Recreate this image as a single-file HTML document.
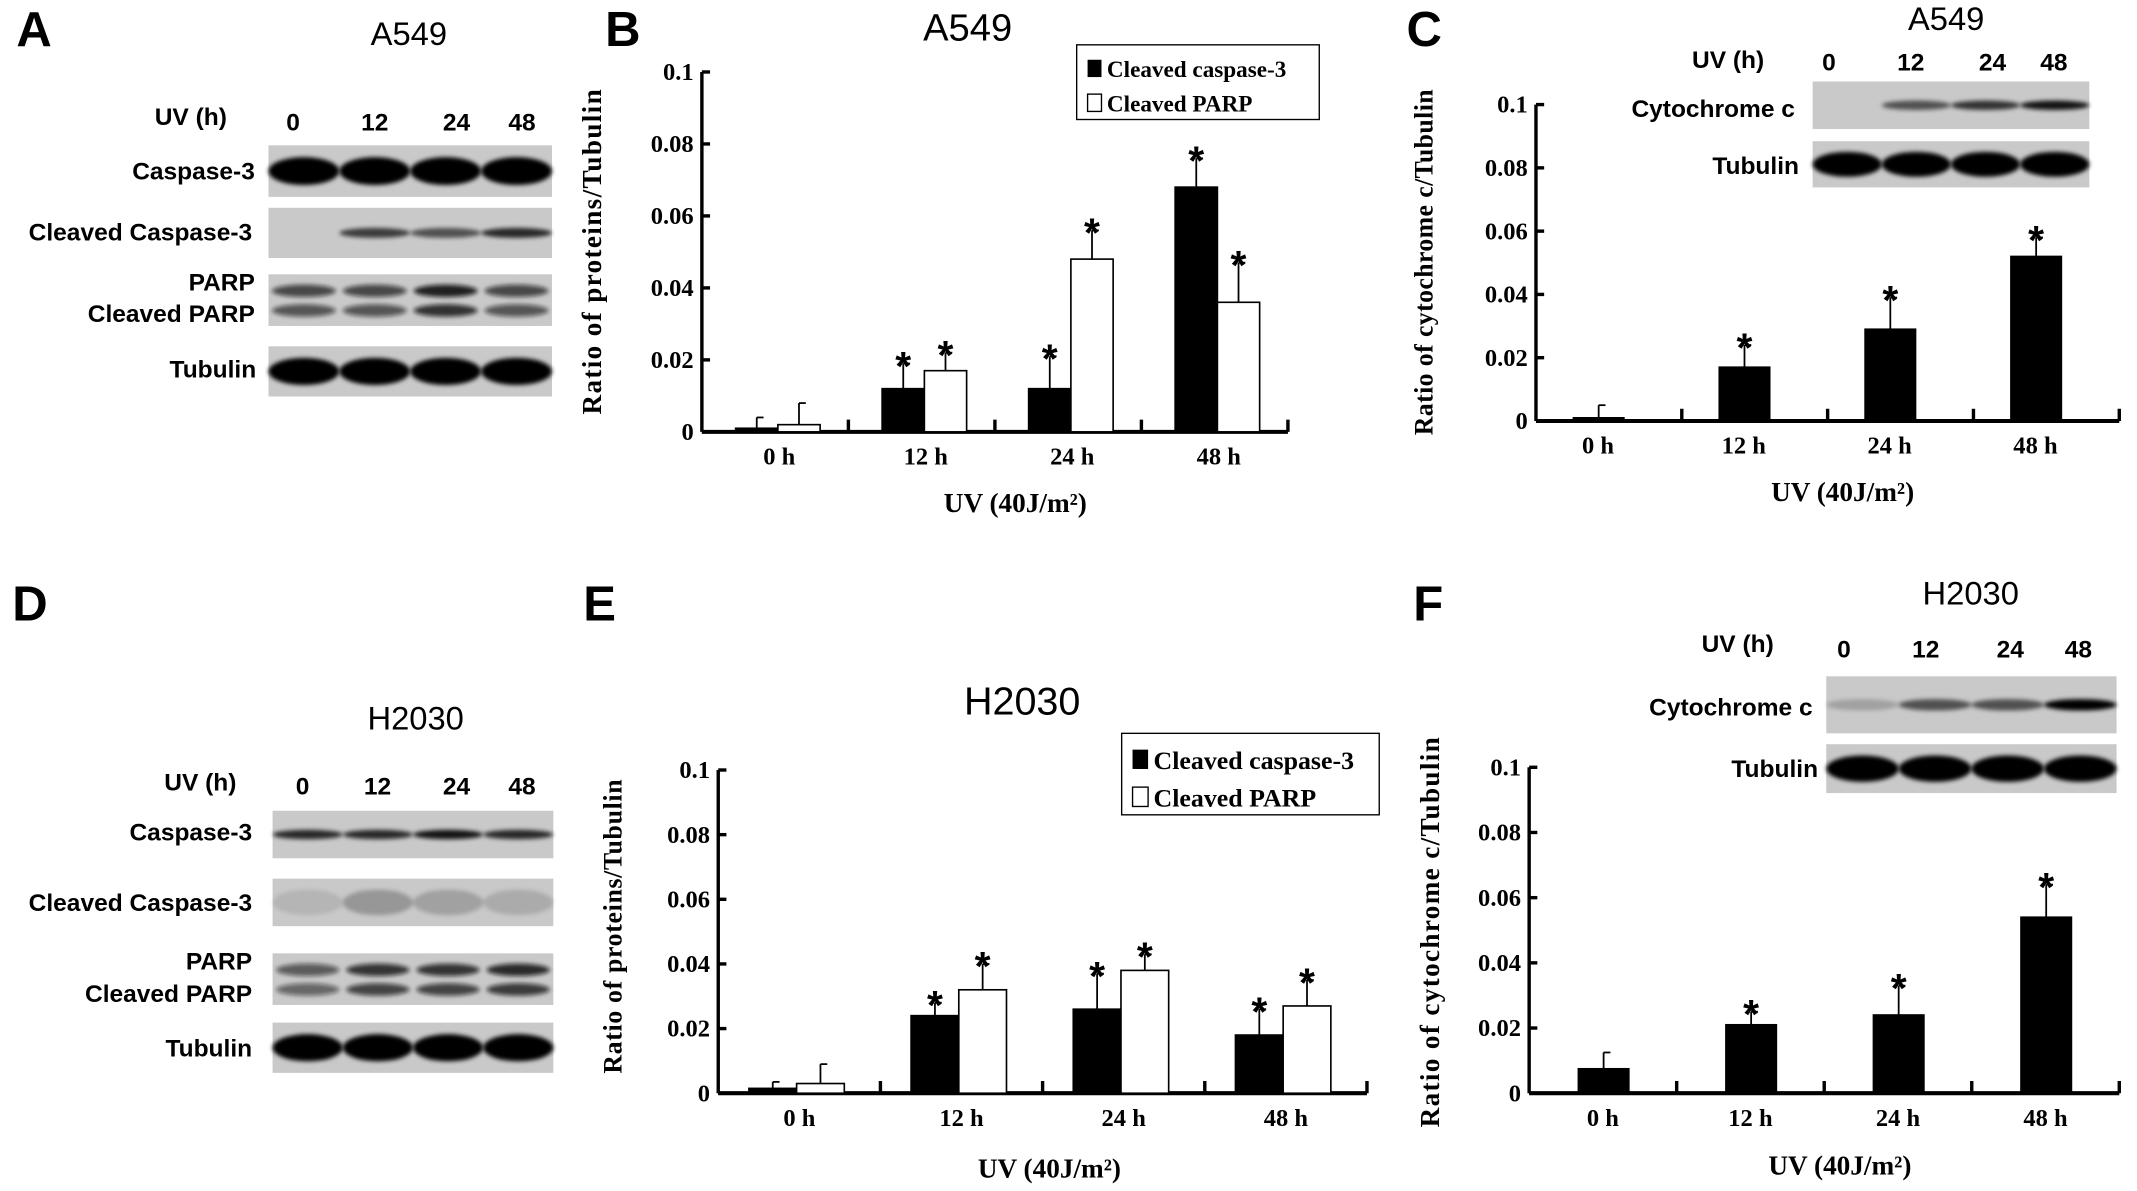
<!DOCTYPE html>
<html><head><meta charset="utf-8"><style>
html,body{margin:0;padding:0;background:#fff;width:2137px;height:1191px;overflow:hidden}
svg{display:block}
.s{font-family:"Liberation Sans",Arial,sans-serif;fill:#000}
.r{font-family:"Liberation Serif",serif;font-weight:bold;fill:#000}
</style></head><body>
<svg id="fig" width="2137" height="1191" viewBox="0 0 1568 877" preserveAspectRatio="none" xmlns="http://www.w3.org/2000/svg">
<defs><filter id="bl" x="-10%" y="-50%" width="120%" height="200%"><feGaussianBlur stdDeviation="1.6"/></filter></defs>
<g id="root"></g>
</svg>
<script>
// Panel B (A549) data
const catsB = ["0 h","12 h","24 h","48 h"];
const casp3B = [0.001,0.012,0.012,0.068];
const casp3ErrB = [0.003,0.007,0.009,0.008];
const parpB = [0.002,0.017,0.048,0.036];
const parpErrB = [0.006,0.005,0.008,0.011];
// Panel C (A549 cytochrome c)
const catsC = ["0 h","12 h","24 h","48 h"];
const cytoC = [0.001,0.017,0.029,0.052];
const cytoErrC = [0.004,0.007,0.010,0.006];
// Panel E (H2030)
const catsE = ["0 h","12 h","24 h","48 h"];
const casp3E = [0.0015,0.024,0.026,0.018];
const casp3ErrE = [0.002,0.004,0.011,0.008];
const parpE = [0.003,0.032,0.038,0.027];
const parpErrE = [0.006,0.008,0.005,0.008];
// Panel F (H2030 cytochrome c)
const catsF = ["0 h","12 h","24 h","48 h"];
const cytoF = [0.0075,0.021,0.024,0.054];
const cytoErrF = [0.005,0.004,0.009,0.010];
const yTicks = ["0","0.02","0.04","0.06","0.08","0.1"];
const yTickVals = [0,0.02,0.04,0.06,0.08,0.1];

const NS="http://www.w3.org/2000/svg";
const root=document.getElementById('root');
function el(tag,attrs,parent,txt){const e=document.createElementNS(NS,tag);for(const k in attrs)e.setAttribute(k,attrs[k]);if(txt!==undefined)e.textContent=txt;(parent||root).appendChild(e);return e;}
function txt(x,y,s,cls,size,anchor,name,extra){const t=el('text',Object.assign({x:x,y:y,class:cls,'font-size':size,'text-anchor':anchor||'middle','font-weight':'bold'},extra||{}),null,s);

return t;}

function chart(o){
  const g=el('g',{});
  
  
  const y=v=>o.y0-(v/0.1)*(o.y0-o.y1);
  const n=o.cats.length, gw=(o.x1-o.x0)/n;
  const cx=i=>o.x0+gw*(i+0.5)+o.coff;
  const ya=el('line',{x1:o.x0,y1:o.y0,x2:o.x0,y2:o.y1,stroke:'#000','stroke-width':2.5},g);
  
  
  const xa=el('line',{x1:o.x0,y1:o.y0,x2:o.x1,y2:o.y0,stroke:'#000','stroke-width':3},g);
  
  
  yTickVals.forEach((v,i)=>{
    el('line',{x1:o.x0,y1:y(v),x2:o.x0+6,y2:y(v),stroke:'#000','stroke-width':2.5},g);
    const t=el('text',{x:o.x0-6,y:y(v)+6,class:'r','font-size':18,'text-anchor':'end'},g,yTicks[i]);
    
    
  });
  for(let i=1;i<=n;i++){el('line',{x1:o.x0+gw*i,y1:o.y0,x2:o.x0+gw*i,y2:o.y0-9,stroke:'#000','stroke-width':2.5},g);}
  o.cats.forEach((c,i)=>{const t=el('text',{x:o.x0+gw*(i+0.5)+o.coff,y:o.y0+24,class:'r','font-size':18,'text-anchor':'middle'},g,c);
    
    });
  o.series.forEach((s,si)=>{
    s.vals.forEach((v,i)=>{
      const bx=cx(i)+s.off, top=y(v), et=y(v+s.err[i]);
      const ex=bx+o.bw/2;
      el('line',{x1:ex,y1:top,x2:ex,y2:et,stroke:'#000','stroke-width':1.3},g);
      el('line',{x1:ex,y1:et,x2:ex+5,y2:et,stroke:'#000','stroke-width':1.3},g);
      const r=el('rect',{x:bx,y:top,width:o.bw,height:o.y0-top,fill:s.fill,stroke:'#000','stroke-width':1.2},g);
      
      
      if(i>0){const st=el('text',{x:ex,y:et+12,class:'s','font-size':30,'font-weight':'bold','text-anchor':'middle'},g,'*');
        
        }
    });
  });
}
chart({name:'chart-b',x0:515,x1:945,y0:318,y1:53,coff:3,bw:31,cats:catsB,
 series:[{key:'caspase3',vals:casp3B,err:casp3ErrB,fill:'#000',off:-32},{key:'parp',vals:parpB,err:parpErrB,fill:'#fff',off:-1}]});
chart({name:'chart-c',x0:1127,x1:1555,y0:310,y1:77,coff:-8,bw:37,cats:catsC,
 series:[{key:'cytochrome',vals:cytoC,err:cytoErrC,fill:'#000',off:-18}]});
chart({name:'chart-e',x0:527,x1:1003,y0:805,y1:567,coff:0,bw:35,cats:catsE,
 series:[{key:'caspase3',vals:casp3E,err:casp3ErrE,fill:'#000',off:-37},{key:'parp',vals:parpE,err:parpErrE,fill:'#fff',off:-2}]});
chart({name:'chart-f',x0:1122,x1:1555,y0:805,y1:565,coff:0,bw:37,cats:catsF,
 series:[{key:'cytochrome',vals:cytoF,err:cytoErrF,fill:'#000',off:-18}]});

const N={'font-weight':'normal'};
txt(25,34,'A','s',36,'middle','panel-label-a');
txt(457,34,'B','s',36,'middle','panel-label-b');
txt(1045,34,'C','s',36,'middle','panel-label-c');
txt(22,457,'D','s',36,'middle','panel-label-d');
txt(440,457,'E','s',36,'middle','panel-label-e');
txt(1048,457,'F','s',36,'middle','panel-label-f');
txt(710,30,'A549','s',28,'middle','chart-b-title',N);
txt(1428,22,'A549','s',24,'middle','chart-c-title',N);
txt(300,33,'A549','s',24,'middle','blot-a-title',N);
txt(305,537,'H2030','s',24,'middle','blot-d-title',N);
txt(750,526,'H2030','s',29,'middle','chart-e-title',N);
txt(1446,445,'H2030','s',24,'middle','chart-f-title',N);
txt(745,377,'UV (40J/m²)','r',20,'middle','chart-b-x-title');
txt(1352,369,'UV (40J/m²)','r',20,'middle','chart-c-x-title');
txt(770,867,'UV (40J/m²)','r',20,'middle','chart-e-x-title');
txt(1350,865,'UV (40J/m²)','r',20,'middle','chart-f-x-title');
txt(0,0,'Ratio of proteins/Tubulin','r',20,'middle','chart-b-y-title',{transform:'translate(441,185) rotate(-90)','letter-spacing':'1'});
txt(0,0,'Ratio of cytochrome c/Tubulin','r',19,'middle','chart-c-y-title',{transform:'translate(1051,193) rotate(-90)','letter-spacing':'0.3'});
txt(0,0,'Ratio of proteins/Tubulin','r',19,'middle','chart-e-y-title',{transform:'translate(456,682) rotate(-90)','letter-spacing':'0.5'});
txt(0,0,'Ratio of cytochrome c/Tubulin','r',20,'middle','chart-f-y-title',{transform:'translate(1056,686) rotate(-90)','letter-spacing':'1'});

function legend(x,y,w,h,fs,name){
  const r=el('rect',{x:x,y:y,width:w,height:h,fill:'#fff',stroke:'#000','stroke-width':1});
  
  
  el('rect',{x:x+8,y:y+h*0.2,width:fs*0.6,height:fs*0.75,fill:'#000'});
  el('rect',{x:x+8,y:y+h*0.66,width:fs*0.6,height:fs*0.75,fill:'#fff',stroke:'#000','stroke-width':1});
  txt(x+12+fs*0.6,y+h*0.2+fs*0.75,'Cleaved caspase-3','r',fs,'start','legend-entry-caspase3');
  txt(x+12+fs*0.6,y+h*0.66+fs*0.75,'Cleaved PARP','r',fs,'start','legend-entry-parp');
}
legend(790,33,178,55,17,'legend-b');
legend(823,540,189,60,19,'legend-e');

function blot(x,y,w,h,lanes,style,name){
  const g=el('g',{});
  
  
  el('rect',{x:x,y:y,width:w,height:h,fill:'#c9c9c9'},g);
  const lw=w/lanes.length;
  lanes.forEach((a,i)=>{
    if(a<=0)return;
    const cx=x+lw*(i+0.5);
    if(style==='double'){
      el('ellipse',{cx:cx,cy:y+h*0.32,rx:lw*0.45,ry:h*0.12,fill:'#111','fill-opacity':a,filter:'url(#bl)'},g);
      el('ellipse',{cx:cx,cy:y+h*0.7,rx:lw*0.45,ry:h*0.12,fill:'#111','fill-opacity':a*0.9,filter:'url(#bl)'},g);
    } else {
      el('ellipse',{cx:cx,cy:y+h*0.5,rx:lw*0.5,ry:h*(style==='thick'?0.27:0.1),fill:'#000','fill-opacity':a,filter:'url(#bl)'},g);
    }
  });
}
const B={'font-weight':'bold'};
txt(140,92,'UV (h)','s',18,'middle','uv-label-a');
[['0',215],['12',275],['24',335],['48',383]].forEach(l=>txt(l[1],96,l[0],'s',18,'middle','lane-label'));
blot(197,107,208,38,[1,1,1,1],'thick','blot-caspase3-a');
blot(197,153,208,37,[0,0.7,0.6,0.8],'thin','blot-cleaved-caspase3-a');
blot(197,202,208,38,[0.7,0.7,0.9,0.7],'double','blot-parp-a');
blot(197,255,208,37,[1,1,1,1],'thick','blot-tubulin-a');
txt(187,132,'Caspase-3','s',18,'end','row-label');
txt(185,177,'Cleaved Caspase-3','s',18,'end','row-label');
txt(187,214,'PARP','s',18,'end','row-label');
txt(187,237,'Cleaved PARP','s',18,'end','row-label');
txt(188,278,'Tubulin','s',18,'end','row-label');
txt(147,582,'UV (h)','s',18,'middle','uv-label-d');
[['0',222],['12',277],['24',335],['48',383]].forEach(l=>txt(l[1],585,l[0],'s',18,'middle','lane-label'));
blot(200,597,206,35,[0.8,0.8,0.9,0.8],'thin','blot-caspase3-d');
blot(200,647,206,35,[0.1,0.25,0.2,0.15],'thick','blot-cleaved-caspase3-d');
blot(200,702,206,38,[0.6,0.8,0.8,0.85],'double','blot-parp-d');
blot(200,753,206,37,[1,1,1,1],'thick','blot-tubulin-d');
txt(185,619,'Caspase-3','s',18,'end','row-label');
txt(185,671,'Cleaved Caspase-3','s',18,'end','row-label');
txt(185,714,'PARP','s',18,'end','row-label');
txt(185,738,'Cleaved PARP','s',18,'end','row-label');
txt(185,778,'Tubulin','s',18,'end','row-label');
txt(1268,50,'UV (h)','s',18,'middle','uv-label-c');
[['0',1342],['12',1402],['24',1462],['48',1507]].forEach(l=>txt(l[1],52,l[0],'s',18,'middle','lane-label'));
blot(1330,60,203,35,[0,0.6,0.75,0.9],'thin','blot-cytochrome-c');
blot(1330,104,203,34,[1,1,1,1],'thick','blot-tubulin-c');
txt(1317,86,'Cytochrome c','s',18,'end','row-label');
txt(1320,128,'Tubulin','s',18,'end','row-label');
txt(1275,480,'UV (h)','s',18,'middle','uv-label-f');
[['0',1353],['12',1413],['24',1475],['48',1525]].forEach(l=>txt(l[1],484,l[0],'s',18,'middle','lane-label'));
blot(1340,498,213,42,[0.2,0.6,0.6,1],'thin','blot-cytochrome-f');
blot(1340,548,213,36,[1,1,1,1],'thick','blot-tubulin-f');
txt(1330,527,'Cytochrome c','s',18,'end','row-label');
txt(1334,572,'Tubulin','s',18,'end','row-label');
</script>
</body></html>
